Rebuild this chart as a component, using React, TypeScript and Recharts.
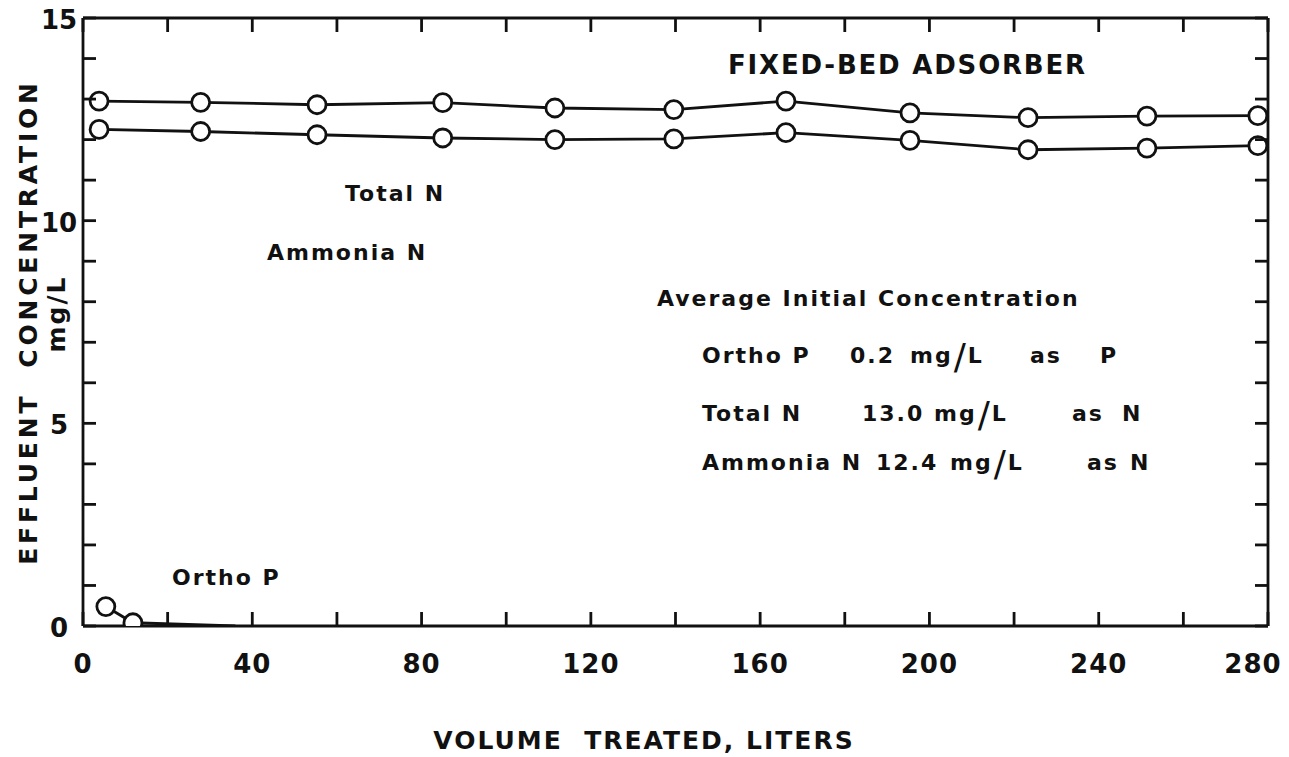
import { LineChart, Line, XAxis, YAxis, Customized } from "recharts";

// volume treated (liters) for the nitrogen samples
const volumeN = [3.8, 27.8, 55.3, 85.0, 111.5, 139.6, 166.1, 195.4, 223.3, 251.4, 277.6];
const totalN = [12.95, 12.92, 12.86, 12.91, 12.78, 12.74, 12.95, 12.66, 12.54, 12.58, 12.59];
const ammoniaN = [12.25, 12.2, 12.12, 12.04, 12.0, 12.02, 12.17, 11.98, 11.75, 11.79, 11.85];

// ortho phosphate drops to zero almost at once
const volumeP = [5.4, 11.8, 36];
const orthoP = [0.48, 0.08, 0];

const xTicks = [0, 20, 40, 60, 80, 100, 120, 140, 160, 180, 200, 220, 240, 260, 280];
const xLabelled = [0, 40, 80, 120, 160, 200, 240, 280];
const yTicks = [0, 1, 2, 3, 4, 5, 6, 7, 8, 9, 10, 11, 12, 13, 14, 15];
const yLabelled = [0, 5, 10, 15];

const totalData = volumeN.map((v, i) => ({ v, c: totalN[i] }));
const ammoniaData = volumeN.map((v, i) => ({ v, c: ammoniaN[i] }));
const orthoData = volumeP.map((v, i) => ({ v, c: orthoP[i] }));

const INK = "#111";
const FONT = "'DejaVu Sans', sans-serif";
const SW = 2.8;

const dotStyle = { r: 9, fill: "#fff", stroke: INK, strokeWidth: SW };

function BottomTick({ x, y, payload }: any) {
  const v = payload.value;
  // last label sits a bit inside the frame, as in the original drawing
  const dx = v === 280 ? -15 : 0;
  return (
    <g>
      <line x1={x} x2={x} y1={y} y2={y - 14} stroke={INK} strokeWidth={SW} />
      {xLabelled.includes(v) && (
        <text x={x + dx} y={y + 38} textAnchor="middle" dominantBaseline="central"
          fontFamily={FONT} fontWeight={700} fontSize={26} letterSpacing={1} fill={INK}>{v}</text>
      )}
    </g>
  );
}

function TopTick({ x, y }: any) {
  return <line x1={x} x2={x} y1={y} y2={y + 14} stroke={INK} strokeWidth={SW} />;
}

function LeftTick({ x, y, payload }: any) {
  const v = payload.value;
  return (
    <g>
      <line x1={x} x2={x + 13} y1={y} y2={y} stroke={INK} strokeWidth={SW} />
      {yLabelled.includes(v) && (
        <text x={x - 24} y={y + 2} textAnchor="middle" dominantBaseline="central"
          fontFamily={FONT} fontWeight={700} fontSize={26} fill={INK}>{v}</text>
      )}
    </g>
  );
}

function RightTick({ x, y }: any) {
  return <line x1={x} x2={x - 13} y1={y} y2={y} stroke={INK} strokeWidth={SW} />;
}

function OrthoDot({ cx, cy, index }: any) {
  if (index > 1) return <g key={`op-${index}`} />;
  return <circle key={`op-${index}`} cx={cx} cy={cy} r={9} fill="#fff" stroke={INK} strokeWidth={SW} />;
}

const notes: [number, number, string][] = [
  [345, 193, "Total N"],
  [267, 252, "Ammonia N"],
  [172, 577, "Ortho P"],
  [657, 298, "Average Initial Concentration"],
  [702, 355, "Ortho P"], [850, 355, "0.2"], [910, 355, "mg/L"], [1030, 355, "as"], [1100, 355, "P"],
  [702, 413, "Total N"], [862, 413, "13.0"], [934, 413, "mg/L"], [1072, 413, "as"], [1122, 413, "N"],
  [702, 462, "Ammonia N"], [876, 462, "12.4"], [950, 462, "mg/L"], [1087, 462, "as"], [1130, 462, "N"],
];

// the hand lettering draws a tall slash in "mg/L"
function Unit({ x, y }: { x: number; y: number }) {
  return (
    <text x={x} y={y + 8} fontSize={22} letterSpacing={2}>
      mg
      <tspan fontSize={36} fontWeight={400} dx={1} dy={6}>/</tspan>
      <tspan dy={-6}>L</tspan>
    </text>
  );
}

function Annotations() {
  return (
    <g fontFamily={FONT} fontWeight={700} fill={INK}>
      <text x={728} y={65} fontSize={26} letterSpacing={1.8} dominantBaseline="central">
        FIXED-BED ADSORBER
      </text>
      {notes.map(([x, y, t], i) =>
        t === "mg/L" ? (
          <Unit key={i} x={x} y={y} />
        ) : (
          <text key={i} x={x} y={y} fontSize={22} letterSpacing={2}
            dominantBaseline="central" style={{ whiteSpace: "pre" }}>{t}</text>
        )
      )}
      <text x={644} y={740} fontSize={25} letterSpacing={2} textAnchor="middle"
        dominantBaseline="central" style={{ whiteSpace: "pre" }}>VOLUME  TREATED, LITERS</text>
      <text transform="translate(28,322) rotate(-90)" fontSize={25} letterSpacing={3.8}
        textAnchor="middle" dominantBaseline="central" style={{ whiteSpace: "pre" }}>
        EFFLUENT  CONCENTRATION
      </text>
      <text transform="translate(56,314) rotate(-90)" fontSize={25} letterSpacing={2}
        textAnchor="middle" dominantBaseline="central">mg/L</text>
    </g>
  );
}

export default function App() {
  return (
    <div style={{ position: "absolute", left: 0, top: 0, background: "#fff" }}>
      <LineChart width={1289} height={757} margin={{ top: 8, right: 11, bottom: 71, left: 23 }}>
        <XAxis dataKey="v" type="number" domain={[0, 280]} ticks={xTicks} interval={0}
          height={60} tickSize={0} tickMargin={0} tick={<BottomTick />}
          axisLine={{ stroke: INK, strokeWidth: SW }} allowDataOverflow />
        <XAxis xAxisId="top" orientation="top" dataKey="v" type="number" domain={[0, 280]}
          ticks={xTicks} interval={0} height={10} tickSize={0} tickMargin={0} tick={<TopTick />}
          axisLine={{ stroke: INK, strokeWidth: SW }} allowDataOverflow />
        <YAxis type="number" domain={[0, 15]} ticks={yTicks} interval={0} width={60}
          tickSize={0} tickMargin={0} tick={<LeftTick />}
          axisLine={{ stroke: INK, strokeWidth: SW }} allowDataOverflow />
        <YAxis yAxisId="right" orientation="right" type="number" domain={[0, 15]} ticks={yTicks}
          interval={0} width={10} tickSize={0} tickMargin={0} tick={<RightTick />}
          axisLine={{ stroke: INK, strokeWidth: SW }} allowDataOverflow />
        <Line data={totalData} dataKey="c" type="linear" stroke={INK} strokeWidth={SW}
          dot={dotStyle} activeDot={false} isAnimationActive={false} />
        <Line data={ammoniaData} dataKey="c" type="linear" stroke={INK} strokeWidth={SW}
          dot={dotStyle} activeDot={false} isAnimationActive={false} />
        <Line data={orthoData} dataKey="c" type="linear" stroke={INK} strokeWidth={SW}
          dot={OrthoDot} activeDot={false} isAnimationActive={false} />
        <Customized component={Annotations} />
      </LineChart>
    </div>
  );
}
